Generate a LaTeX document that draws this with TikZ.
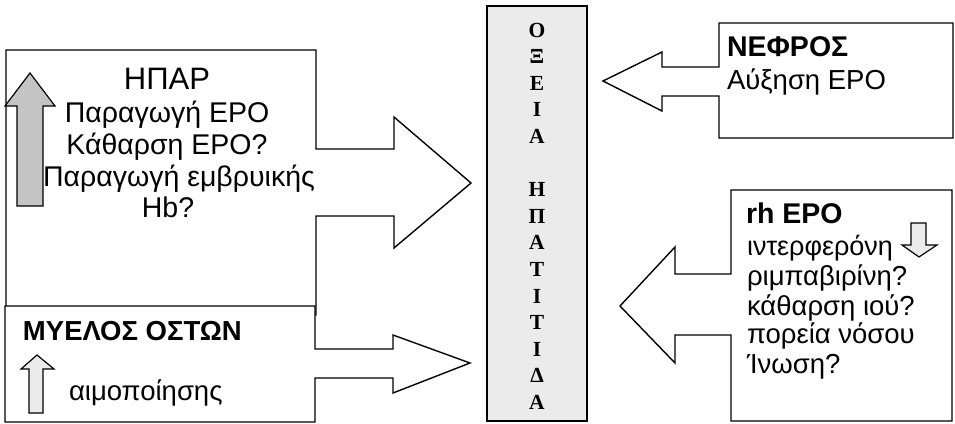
\documentclass[tikz,border=0pt]{standalone}
\usepackage{fontspec}
\setmainfont{Liberation Sans}
\newfontfamily\serifgr{Liberation Serif}
\begin{document}
\begin{tikzpicture}[x=1pt,y=-1pt,
  outline/.style={draw=black,line width=1.4pt,fill=white,line join=miter},
  darkarrow/.style={draw=black,line width=1.2pt,fill=black!23},
  lightarrow/.style={draw=black,line width=1.2pt,fill=black!8},
  txt/.style={inner sep=0pt,outer sep=0pt,font=\fontsize{28.5}{32}\selectfont},
  txtw/.style={txt,anchor=base west},
  txtc/.style={txt,anchor=base},
  col/.style={inner sep=0pt,anchor=base,font=\serifgr\bfseries\fontsize{21.5}{24}\selectfont}]
\useasboundingbox (0,0) rectangle (955,423);
% HPAR box with block arrow
\draw[outline] (6,50) -- (316,50) -- (316,149) -- (394,149) -- (394,117) -- (471,183)
  -- (394,248) -- (394,216) -- (316,216) -- (316,315) -- (6,315) -- cycle;
% MYELOS box with block arrow
\draw[outline] (5,306) -- (315,306) -- (315,349) -- (393,349) -- (393,335) -- (470,363)
  -- (393,393) -- (393,378) -- (315,378) -- (315,422) -- (5,422) -- cycle;
% center column
\draw[line width=1.5pt,fill=black!8] (487,6) rectangle (587,421);
% NEFROS box with block arrow
\draw[outline] (719,23) -- (953,23) -- (953,138) -- (719,138) -- (719,96) -- (662,96)
  -- (662,111) -- (603,81) -- (662,52) -- (662,67) -- (719,67) -- cycle;
% rh EPO box with block arrow
\draw[outline] (731,190) -- (952,190) -- (952,421) -- (731,421) -- (731,335) -- (675,335)
  -- (675,363) -- (620,306) -- (675,247) -- (675,274) -- (731,274) -- cycle;
% small arrows
\draw[darkarrow] (17,206) -- (17,106) -- (5,106) -- (30,73) -- (55,106) -- (43,106) -- (43,206) -- cycle;
\draw[lightarrow] (29,413) -- (29,369) -- (21,369) -- (37,355) -- (54,369) -- (43,369) -- (43,413) -- cycle;
\draw[lightarrow] (911,223) -- (926,223) -- (926,245) -- (937,245) -- (919,257) -- (902,245) -- (911,245) -- cycle;
% HPAR text
\node[txtc,font=\fontsize{31}{34}\selectfont] (h0) at (167,89) {ΗΠΑΡ};
\node[txtc] (h1) at (167,122) {Παραγωγή ΕΡΟ};
\node[txtc] (h2) at (167,154) {Κάθαρση ΕΡΟ?};
\node[txtc] (h3) at (179,186) {Παραγωγή εμβρυικής};
\node[txtc] (h4) at (168,217) {Hb?};
% MYELOS text
\node[txtw,font=\bfseries\fontsize{27.5}{30}\selectfont] (m0) at (23,340) {ΜΥΕΛΟΣ ΟΣΤΩΝ};
\node[txtw,font=\fontsize{27.5}{30}\selectfont] (m1) at (69,400) {αιμοποίησης};
% NEFROS text
\node[txtw,font=\bfseries\fontsize{28.5}{30}\selectfont] (n0) at (727,56) {ΝΕΦΡΟΣ};
\node[txtw,font=\fontsize{27.5}{30}\selectfont] (n1) at (727,89) {Αύξηση ΕΡΟ};
% rh EPO text
\node[txtw,font=\bfseries\fontsize{28.5}{30}\selectfont] (r0) at (746,223) {rh EPO};
\node[txtw,font=\fontsize{27}{30}\selectfont] (r1) at (747,255) {ιντερφερόνη};
\node[txtw,font=\fontsize{27.5}{30}\selectfont] (r2) at (747,285) {ριμπαβιρίνη?};
\node[txtw,font=\fontsize{27.5}{30}\selectfont] (r3) at (747,315) {κάθαρση ιού?};
\node[txtw,font=\fontsize{27.5}{30}\selectfont] (r4) at (747,343) {πορεία νόσου};
\node[txtw,font=\fontsize{27.5}{30}\selectfont] (r5) at (747,373) {Ίνωση?};
% center column letters
\foreach \i/\l in {0/Ο,1/Ξ,2/Ε,3/Ι,4/Α,6/Η,7/Π,8/Α,9/Τ,10/Ι,11/Τ,12/Ι,13/Δ,14/Α}
  \node[col] (c\i) at (537,{37+\i*26.6}) {\l};
\end{tikzpicture}
\end{document}
